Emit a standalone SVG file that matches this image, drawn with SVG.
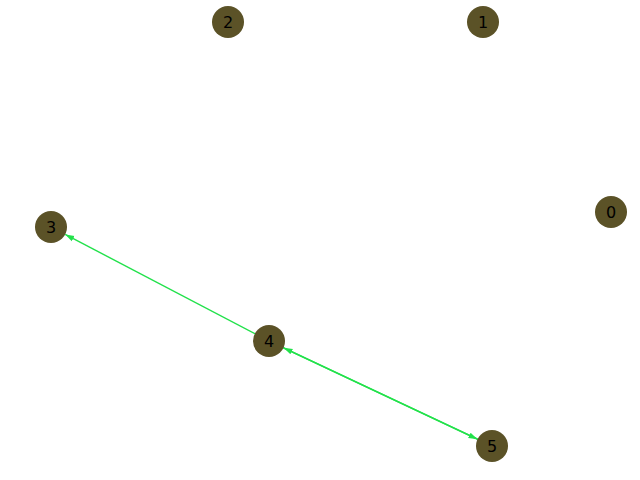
<svg xmlns="http://www.w3.org/2000/svg" width="640" height="480" viewBox="0 0 640 480">
<style>
.node circle{fill:#5b5227;}
.node text{font-family:"DejaVu Sans",sans-serif;font-size:16px;fill:#000;text-anchor:middle;dominant-baseline:central;}
.edge{stroke:#22e14b;stroke-width:1.4;fill:none;marker-end:url(#ah);}
</style>
<defs>
<marker id="ah" markerUnits="userSpaceOnUse" markerWidth="10" markerHeight="8" refX="9" refY="3" orient="auto" viewBox="0 0 10 6">
<path d="M0,0 L9,3 L0,6 Z" fill="#22e14b"/>
</marker>
</defs>
<rect width="640" height="480" fill="#fff"/>
<g id="edges">
<line class="edge" x1="269" y1="341" x2="65.2" y2="234.4"/>
<line class="edge" x1="269" y1="341" x2="477.5" y2="439.2"/>
<line class="edge" x1="492" y1="446" x2="283.5" y2="347.8"/>
</g>
<g id="node0" class="node"><circle cx="611" cy="212" r="16"/><text x="611" y="212">0</text></g>
<g id="node1" class="node"><circle cx="483" cy="22" r="16"/><text x="483" y="22">1</text></g>
<g id="node2" class="node"><circle cx="228" cy="22" r="16"/><text x="228" y="22">2</text></g>
<g id="node3" class="node"><circle cx="51" cy="227" r="16"/><text x="51" y="227">3</text></g>
<g id="node4" class="node"><circle cx="269" cy="341" r="16"/><text x="269" y="341">4</text></g>
<g id="node5" class="node"><circle cx="492" cy="446" r="16"/><text x="492" y="446">5</text></g>
</svg>
